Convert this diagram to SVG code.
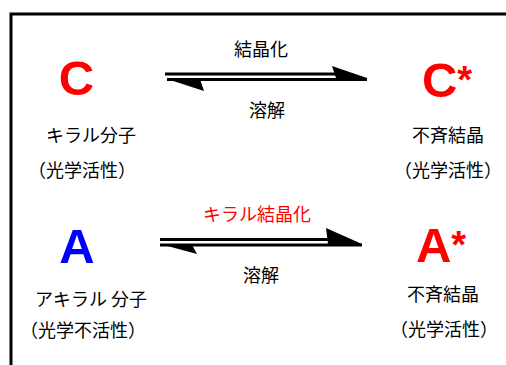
<svg xmlns="http://www.w3.org/2000/svg" width="506" height="365" viewBox="0 0 506 365">
<style>
.big{font-family:"Liberation Sans",Arial,sans-serif;font-weight:bold;font-size:49px;text-anchor:middle}
.ast{font-size:38px}
.jp{font-family:"Noto Sans CJK JP","Noto Sans",sans-serif;font-size:18px;text-anchor:middle;fill:#000}
.ln{stroke:#000;stroke-width:3;fill:none}
</style>
<rect width="506" height="365" fill="#fff"/>
<path d="M11,370 V14 H512" fill="none" stroke="#000" stroke-width="3"/>
<g id="C"><text class="big" x="76.5" y="95" fill="#ff0000">C</text>
<text class="jp" x="91" y="142">キラル分子</text>
<text class="jp" x="82" y="177">（光学活性）</text></g>
<g id="Cstar"><text class="big" x="447" y="97" fill="#ff0000">C<tspan class="ast" dy="-4">*</tspan></text>
<text class="jp" x="448" y="142">不斉結晶</text>
<text class="jp" x="448" y="177">（光学活性）</text></g>
<g id="A"><text class="big" x="77" y="263" fill="#0000ff">A</text>
<text class="jp" x="91" y="306">アキラル 分子</text>
<text class="jp" x="83" y="337">（光学不活性）</text></g>
<g id="Astar"><text class="big" x="441" y="262" fill="#ff0000">A<tspan class="ast" dy="-4">*</tspan></text>
<text class="jp" x="443" y="301">不斉結晶</text>
<text class="jp" x="444" y="336">（光学活性）</text></g>
<g id="connectors">
<line class="ln" x1="165" y1="74" x2="336" y2="74"/>
<polygon points="332,66 367,78 336,78"/>
<line class="ln" x1="167" y1="79.5" x2="367" y2="79.5"/>
<polygon points="167,79 204,91 200,79"/>
<text class="jp" x="261" y="56">結晶化</text>
<text class="jp" x="267" y="117">溶解</text>
<line class="ln" x1="160" y1="239.5" x2="329" y2="239.5"/>
<polygon points="326,228 362,244 328,244"/>
<line class="ln" x1="160" y1="245" x2="362" y2="245"/>
<polygon points="160,244 197,254 192,245"/>
<text class="jp" x="257" y="221" style="fill:#ff0000">キラル結晶化</text>
<text class="jp" x="261" y="282">溶解</text>
</g>
</svg>
